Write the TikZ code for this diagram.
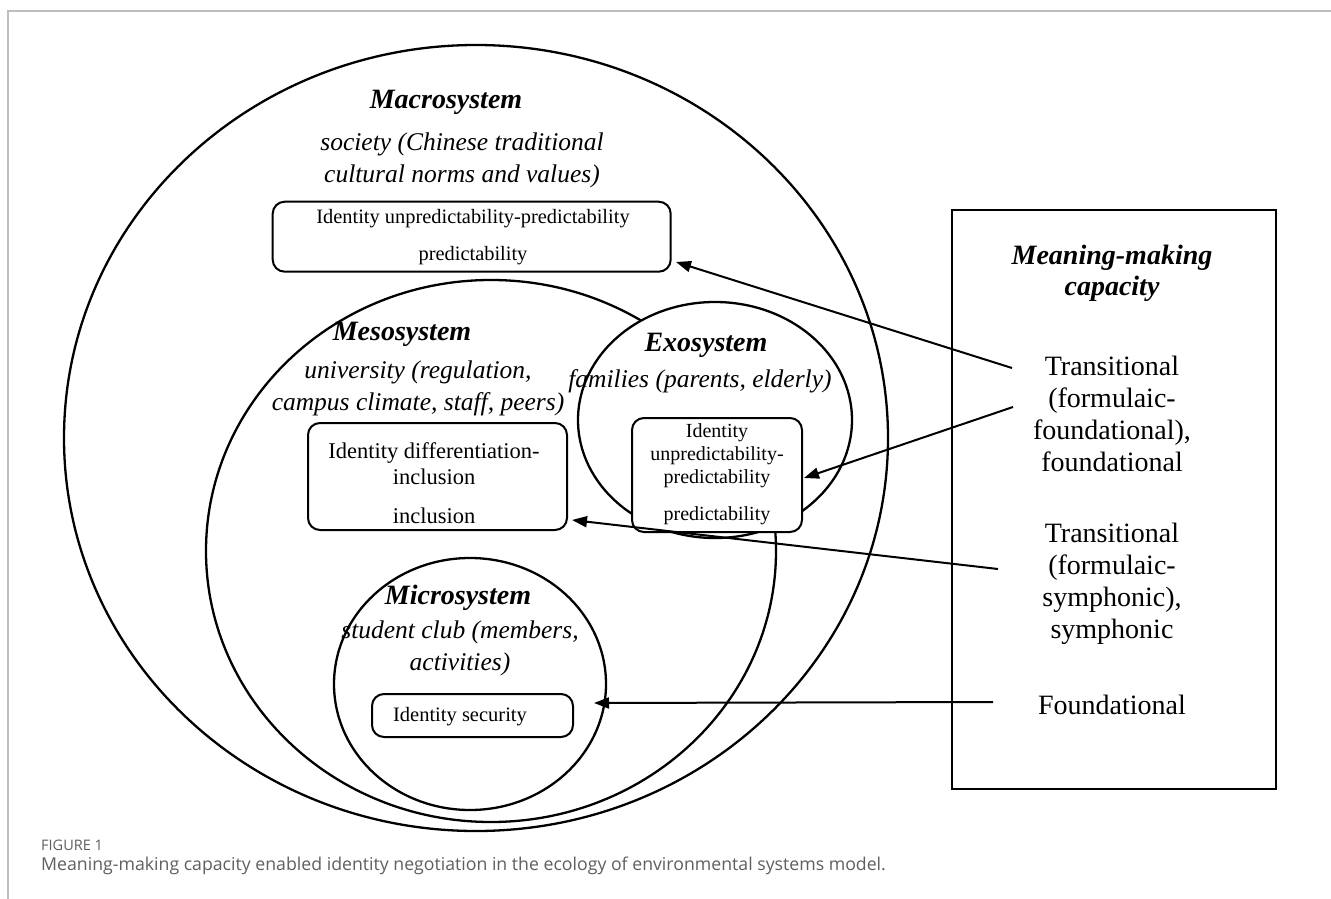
\documentclass[tikz,border=0pt]{standalone}
\usepackage{fontspec}
\setmainfont{Liberation Serif}
\newfontfamily\capfont{Open Sans}
\usetikzlibrary{arrows.meta,calc}
\definecolor{framegray}{RGB}{190,190,190}
\definecolor{capgray}{RGB}{95,95,95}
\begin{document}
\begin{tikzpicture}[x=1pt,y=-1pt,
  sys/.style={draw=black,line width=2.3pt},
  idbox/.style={draw=black,line width=2pt,rounded corners=12pt,fill=white,inner sep=0pt},
  conn/.style={draw=black,line width=2pt,-{Triangle[length=15pt,width=11pt]}},
  ttl/.style={font=\fontsize{28}{31}\selectfont\bfseries\itshape,align=center,inner sep=0pt},
  desc/.style={font=\fontsize{25.5}{32}\selectfont\itshape,align=center,inner sep=0pt},
  rtxt/.style={font=\fontsize{28}{31.8}\selectfont,align=center,inner sep=0pt},
  btxt/.style={align=center,inner sep=0pt}
]
\useasboundingbox (0,0) rectangle (1331,899);
\fill[white] (0,0) rectangle (1331,899);
% frame
\draw[framegray,line width=2pt] (8,899) -- (8,11) -- (1331,11);

% systems
\draw[sys] (476,438) ellipse [x radius=412pt, y radius=393pt];
\draw[sys] (491,551) ellipse [x radius=285pt, y radius=271pt];
\draw[sys,fill=white] (715,420) ellipse [x radius=137pt, y radius=118pt];
\draw[sys] (470,684) ellipse [x radius=136pt, y radius=126pt];

% identity boxes
\node[idbox,minimum width=398pt,minimum height=70pt] (b1) at (471.7,236.7) {};
\node[btxt,font=\fontsize{20.4}{37}\selectfont] (t1) at (473,237) {Identity unpredictability-predictability\\predictability};

\node[idbox,minimum width=259pt,minimum height=107pt] (b2) at (437.5,476.5) {};
\node[btxt,font=\fontsize{22.5}{26}\selectfont] (t2) at (434,483) {Identity differentiation-\\inclusion\\[13pt]inclusion};

\node[idbox,minimum width=170pt,minimum height=114pt] (b3) at (717,475) {};
\node[btxt,font=\fontsize{20}{23}\selectfont] (t3) at (717,474) {Identity\\unpredictability-\\predictability\\[14pt]predictability};

\node[idbox,minimum width=201pt,minimum height=43pt] (b4) at (472.5,715.5) {};
\node[btxt,font=\fontsize{20.5}{24}\selectfont] (t4) at (460,717) {Identity security};

% system labels
\node[ttl] (mac) at (446,102) {Macrosystem};
\node[desc] (macd) at (462,160) {society (Chinese traditional\\cultural norms and values)};
\node[ttl] (mes) at (402,334) {Mesosystem};
\node[desc] (mesd) at (418,388) {university (regulation,\\campus climate, staff, peers)};
\node[ttl] (exo) at (706,345) {Exosystem};
\node[desc] (exod) at (700,381) {families (parents, elderly)};
\node[ttl] (mic) at (458,598) {Microsystem};
\node[desc] (micd) at (460,648) {student club (members,\\activities)};

% meaning-making box
\node[draw=black,line width=2pt,minimum width=324pt,minimum height=579.4pt,inner sep=0pt] (mbox) at (1114,499.3) {};
\node[ttl] (mt) at (1112,273) {Meaning-making\\capacity};
\node[rtxt] (r1) at (1112,414) {Transitional\\(formulaic-\\foundational),\\foundational};
\node[rtxt] (r2) at (1112,584) {Transitional\\(formulaic-\\symphonic),\\symphonic};
\node[rtxt] (r3) at (1112,705) {Foundational};

% connectors
\draw[conn] ($(r1.center)+(-100,-46)$) -- ($(b1.south east)+(4.3,-10.7)$);
\draw[conn] ($(r1.center)+(-99,-7)$) -- ($(b3.east)+(1,3)$);
\draw[conn] ($(r2.center)+(-114,-15)$) -- ($(b2.south east)+(4,-11)$);
\draw[conn] ($(r3.center)+(-119,-3)$) -- ($(b4.east)+(20,-12.5)$);

% caption
\node[anchor=base west,inner sep=0pt,font=\capfont\fontsize{14.5}{16}\selectfont,text=capgray] (fig) at (41,850) {FIGURE 1};
\node[anchor=base west,inner sep=0pt,font=\capfont\fontsize{17.7}{20}\selectfont,text=capgray] (cap) at (41,870) {Meaning-making capacity enabled identity negotiation in the ecology of environmental systems model.};
\end{tikzpicture}
\end{document}
